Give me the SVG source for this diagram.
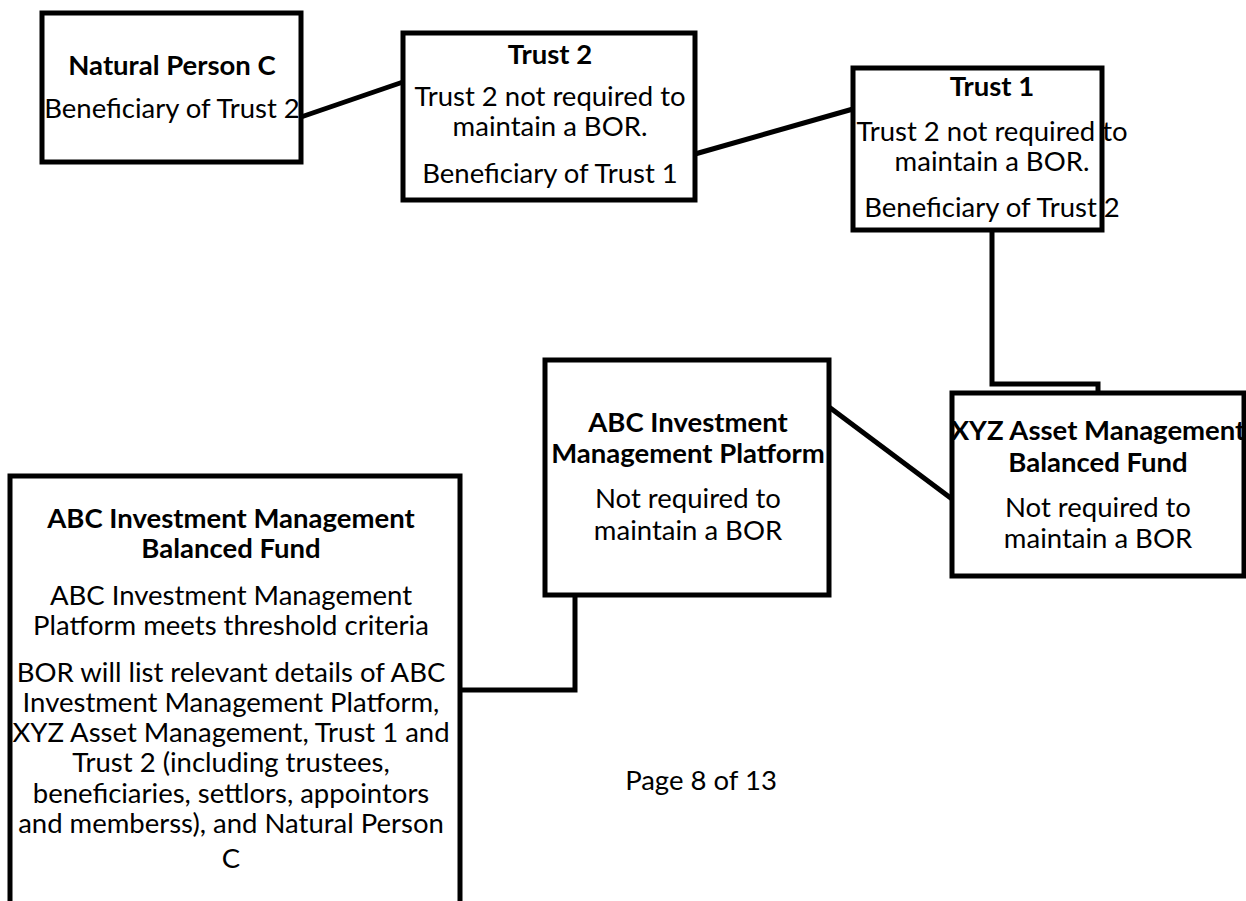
<svg xmlns="http://www.w3.org/2000/svg" width="1246" height="901" viewBox="0 0 1246 901">
<style>
.box{fill:#fff;stroke:#000;stroke-width:5}
.conn{fill:none;stroke:#000;stroke-width:5}
text{font-family:Lato,"Liberation Sans",sans-serif;font-size:27.5px;fill:#000;text-anchor:middle}
.b{font-weight:bold}
</style>
<rect width="1246" height="901" fill="#fff"/>
<g id="connectors">
<path class="conn" d="M301,117 L403,82"/>
<path class="conn" d="M695,154 L853,109"/>
<path class="conn" d="M992,230 V384 H1098 V393"/>
<path class="conn" d="M829,407 L952,499"/>
<path class="conn" d="M460,690 H575 V595"/>
</g>
<g id="natural-person-c">
<rect class="box" x="42" y="13" width="259" height="149"/>
<text class="b" x="172" y="75">Natural Person C</text>
<text x="172" y="118">Beneficiary of Trust 2</text>
</g>
<g id="trust-2">
<rect class="box" x="403" y="33" width="292" height="167"/>
<text class="b" x="550" y="64">Trust 2</text>
<text x="550" y="106">Trust 2 not required to</text>
<text x="550" y="136">maintain a BOR.</text>
<text x="550" y="183">Beneficiary of Trust 1</text>
</g>
<g id="trust-1">
<rect class="box" x="853" y="68" width="249" height="162"/>
<text class="b" x="992" y="96">Trust 1</text>
<text x="992" y="141">Trust 2 not required to</text>
<text x="992" y="171">maintain a BOR.</text>
<text x="992" y="217">Beneficiary of Trust 2</text>
</g>
<g id="abc-platform">
<rect class="box" x="545" y="360" width="284" height="235"/>
<text class="b" x="688" y="432">ABC Investment</text>
<text class="b" x="688" y="463">Management Platform</text>
<text x="688" y="508">Not required to</text>
<text x="688" y="540">maintain a BOR</text>
</g>
<g id="xyz-fund">
<rect class="box" x="952" y="393" width="292" height="183"/>
<text class="b" x="1098" y="440">XYZ Asset Management</text>
<text class="b" x="1098" y="472">Balanced Fund</text>
<text x="1098" y="517">Not required to</text>
<text x="1098" y="548">maintain a BOR</text>
</g>
<g id="abc-fund">
<rect class="box" x="10" y="476" width="450" height="440"/>
<text class="b" x="231" y="528">ABC Investment Management</text>
<text class="b" x="231" y="558">Balanced Fund</text>
<text x="231" y="605">ABC Investment Management</text>
<text x="231" y="635">Platform meets threshold criteria</text>
<text x="231" y="682">BOR will list relevant details of ABC</text>
<text x="231" y="712">Investment Management Platform,</text>
<text x="231" y="742">XYZ Asset Management, Trust 1 and</text>
<text x="231" y="772">Trust 2 (including trustees,</text>
<text x="231" y="803">beneficiaries, settlors, appointors</text>
<text x="231" y="833">and memberss), and Natural Person</text>
<text x="231" y="868">C</text>
</g>
<text id="page-number" x="701" y="790">Page 8 of 13</text>
</svg>
